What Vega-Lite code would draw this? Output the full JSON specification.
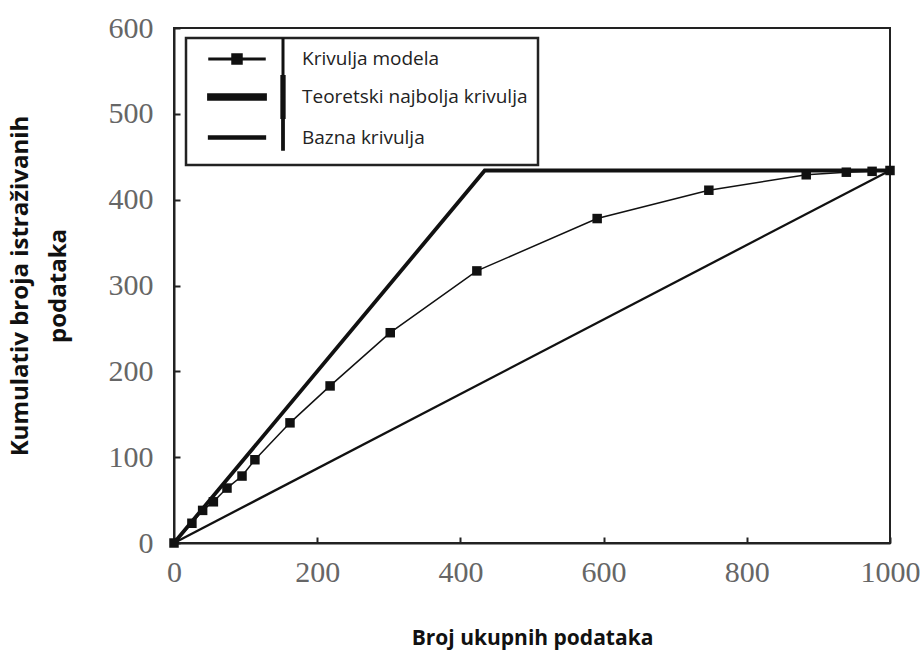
{
  "$schema": "https://vega.github.io/schema/vega-lite/v6.json",
  "width": 716,
  "height": 515,
  "autosize": "none",
  "padding": {"left": 174, "top": 28, "right": 30, "bottom": 116},
  "background": "white",
  "config": {
    "view": {"stroke": "#222", "strokeWidth": 2},
    "axis": {
      "grid": false,
      "domainColor": "#222",
      "domainWidth": 2,
      "tickColor": "#222",
      "tickWidth": 2,
      "tickSize": -6,
      "labelFont": "Liberation Serif",
      "labelFontSize": 30,
      "labelColor": "#666",
      "titleFont": "Open Sans",
      "titleFontWeight": "bold",
      "titleColor": "#111"
    }
  },
  "data": {
    "values": [
      {"series": "Krivulja modela", "x": 0, "y": 0},
      {"series": "Krivulja modela", "x": 25, "y": 23},
      {"series": "Krivulja modela", "x": 40, "y": 38},
      {"series": "Krivulja modela", "x": 55, "y": 48},
      {"series": "Krivulja modela", "x": 74, "y": 64},
      {"series": "Krivulja modela", "x": 95, "y": 78},
      {"series": "Krivulja modela", "x": 113, "y": 97},
      {"series": "Krivulja modela", "x": 162, "y": 140},
      {"series": "Krivulja modela", "x": 218, "y": 183},
      {"series": "Krivulja modela", "x": 302, "y": 245},
      {"series": "Krivulja modela", "x": 423, "y": 317},
      {"series": "Krivulja modela", "x": 591, "y": 378},
      {"series": "Krivulja modela", "x": 747, "y": 411},
      {"series": "Krivulja modela", "x": 883, "y": 429},
      {"series": "Krivulja modela", "x": 939, "y": 432},
      {"series": "Krivulja modela", "x": 975, "y": 433},
      {"series": "Krivulja modela", "x": 1000, "y": 434},
      {"series": "Teoretski najbolja krivulja", "x": 0, "y": 0},
      {"series": "Teoretski najbolja krivulja", "x": 434, "y": 434},
      {"series": "Teoretski najbolja krivulja", "x": 1000, "y": 434},
      {"series": "Bazna krivulja", "x": 0, "y": 0},
      {"series": "Bazna krivulja", "x": 1000, "y": 434}
    ]
  },
  "encoding": {
    "x": {
      "field": "x", "type": "quantitative",
      "scale": {"domain": [0, 1000], "nice": false, "zero": false},
      "axis": {"values": [0, 200, 400, 600, 800, 1000], "format": "d", "title": "Broj ukupnih podataka", "titleFontSize": 21, "labelPadding": 20, "titlePadding": 40, "labelFlush": false}
    },
    "y": {
      "field": "y", "type": "quantitative",
      "scale": {"domain": [0, 600], "nice": false},
      "axis": {"values": [0, 100, 200, 300, 400, 500, 600], "format": "d", "title": ["Kumulativ broja istraživanih", "podataka"], "titleFontSize": 24, "labelPadding": 27, "titlePadding": 38, "titleLineHeight": 38}
    }
  },
  "layer": [
    {
      "mark": {"type": "line", "strokeCap": "butt"},
      "encoding": {
        "color": {
          "field": "series", "type": "nominal",
          "scale": {"domain": ["Krivulja modela", "Teoretski najbolja krivulja", "Bazna krivulja"], "range": ["#111", "#111", "#111"]},
          "legend": {
            "title": null,
            "orient": "none",
            "legendX": 12,
            "legendY": 10,
            "padding": 10,
            "strokeColor": "#222",
            "labelFont": "Open Sans",
            "labelFontSize": 19,
            "labelColor": "#222",
            "labelOffset": 82,
            "labelExpr": "datum.label + '\u00a0\u00a0\u00a0'",
            "symbolSize": 400,
            "rowPadding": -13,
            "labelLimit": 400,
            "encode": {
              "legend": {"update": {"strokeWidth": {"value": 2.5}}},
              "symbols": {
                "update": {
                  "shape": [
                    {"test": "datum.value === 'Krivulja modela'", "value": "M0.1,-0.075H5.7V0.075H0.1Z M2.4,-0.5H3.4V0.5H2.4Z M7.425,-2H7.575V2H7.425Z"},
                    {"test": "datum.value === 'Teoretski najbolja krivulja'", "value": "M0.1,-0.18H5.7V0.18H0.1Z M7.425,-2H7.575V2H7.425Z"},
                    {"value": "M0.1,-0.11H5.7V0.11H0.1Z M7.425,-2H7.575V1.2H7.425Z"}
                  ],
                  "strokeWidth": {"value": 0},
                  "fill": {"value": "#111"},
                  "fillOpacity": {"value": 1},
                  "opacity": {"value": 1}
                }
              }
            }
          }
        },
        "strokeWidth": {
          "field": "series", "type": "nominal",
          "scale": {"type": "ordinal", "domain": ["Krivulja modela", "Teoretski najbolja krivulja", "Bazna krivulja"], "range": [1.5, 3.8, 2.3]},
          "legend": null
        }
      }
    },
    {
      "transform": [{"filter": "datum.series === 'Krivulja modela'"}],
      "mark": {"type": "square", "filled": true, "color": "#111", "size": 90, "opacity": 1}
    }
  ]
}
